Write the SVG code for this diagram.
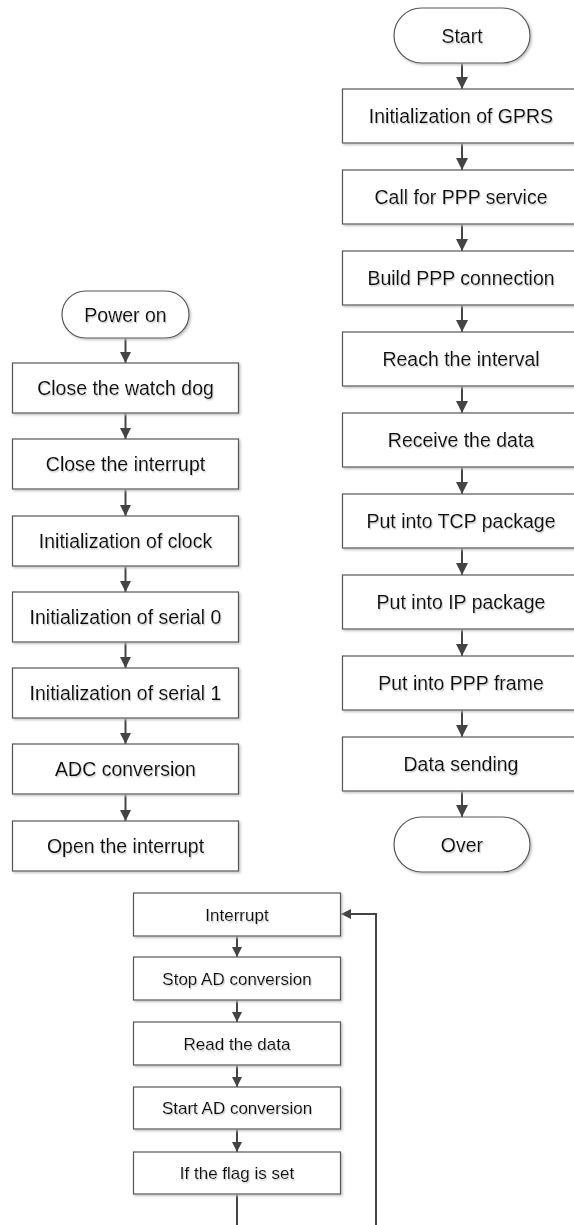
<svg xmlns="http://www.w3.org/2000/svg" width="574" height="1225" viewBox="0 0 574 1225">
<style>
.box{fill:#fff;stroke:#555;stroke-width:1.2;filter:url(#sh)}
.t{font-family:"Liberation Sans",Arial,sans-serif;font-size:19.5px;fill:#111;text-anchor:middle;filter:url(#tsh)}
.s{font-family:"Liberation Sans",Arial,sans-serif;font-size:17px;fill:#111;text-anchor:middle;filter:url(#tsh)}
.c{fill:none;stroke:#444;stroke-width:2}
</style>
<defs>
<filter id="sh" x="-5%" y="-5%" width="115%" height="130%"><feDropShadow dx="1.5" dy="1.5" stdDeviation="0.8" flood-color="#bbb" flood-opacity="0.9"/></filter>
<filter id="tsh" x="-5%" y="-20%" width="115%" height="150%"><feDropShadow dx="1" dy="1.5" stdDeviation="0.6" flood-color="#ccc" flood-opacity="0.9"/></filter>
<marker id="a12" markerUnits="userSpaceOnUse" markerWidth="12" markerHeight="12" refX="12" refY="6" orient="auto"><path d="M0,0 L12,6 L0,12 z" fill="#444"/></marker>
<marker id="a11" markerUnits="userSpaceOnUse" markerWidth="11" markerHeight="11" refX="11" refY="5.5" orient="auto"><path d="M0,0 L11,5.5 L0,11 z" fill="#444"/></marker>
<marker id="a10" markerUnits="userSpaceOnUse" markerWidth="10" markerHeight="10" refX="10" refY="5" orient="auto"><path d="M0,0 L10,5 L0,10 z" fill="#444"/></marker>
</defs>

<g id="connectors">
<line class="c" x1="462" y1="63" x2="462" y2="89" marker-end="url(#a12)"/>
<line class="c" x1="462" y1="143" x2="462" y2="170" marker-end="url(#a12)"/>
<line class="c" x1="462" y1="224" x2="462" y2="251" marker-end="url(#a12)"/>
<line class="c" x1="462" y1="305" x2="462" y2="332" marker-end="url(#a12)"/>
<line class="c" x1="462" y1="386" x2="462" y2="413" marker-end="url(#a12)"/>
<line class="c" x1="462" y1="467" x2="462" y2="494" marker-end="url(#a12)"/>
<line class="c" x1="462" y1="548" x2="462" y2="575" marker-end="url(#a12)"/>
<line class="c" x1="462" y1="629" x2="462" y2="656" marker-end="url(#a12)"/>
<line class="c" x1="462" y1="710" x2="462" y2="737" marker-end="url(#a12)"/>
<line class="c" x1="462" y1="791" x2="462" y2="817" marker-end="url(#a12)"/>

<line class="c" x1="125.5" y1="338" x2="125.5" y2="363" marker-end="url(#a11)"/>
<line class="c" x1="125.5" y1="413" x2="125.5" y2="439" marker-end="url(#a11)"/>
<line class="c" x1="125.5" y1="489" x2="125.5" y2="516" marker-end="url(#a11)"/>
<line class="c" x1="125.5" y1="566" x2="125.5" y2="592" marker-end="url(#a11)"/>
<line class="c" x1="125.5" y1="642" x2="125.5" y2="668" marker-end="url(#a11)"/>
<line class="c" x1="125.5" y1="718" x2="125.5" y2="744" marker-end="url(#a11)"/>
<line class="c" x1="125.5" y1="794" x2="125.5" y2="821" marker-end="url(#a11)"/>

<line class="c" x1="237" y1="936" x2="237" y2="957" marker-end="url(#a10)"/>
<line class="c" x1="237" y1="1000" x2="237" y2="1022" marker-end="url(#a10)"/>
<line class="c" x1="237" y1="1065" x2="237" y2="1087" marker-end="url(#a10)"/>
<line class="c" x1="237" y1="1129" x2="237" y2="1152" marker-end="url(#a10)"/>
<line class="c" x1="237" y1="1194" x2="237" y2="1226"/>
<polyline class="c" points="376,1226 376,914 341,914" marker-end="url(#a10)"/>
</g>

<g id="start"><rect class="box" x="394" y="8" width="136" height="55" rx="27.5"/><text class="t" x="462" y="42.5">Start</text></g>
<g id="gprs"><rect class="box" x="342.5" y="89" width="238" height="54"/><text class="t" x="461" y="123">Initialization of GPRS</text></g>
<g id="ppp-service"><rect class="box" x="342.5" y="170" width="238" height="54"/><text class="t" x="461" y="204">Call for PPP service</text></g>
<g id="ppp-conn"><rect class="box" x="342.5" y="251" width="238" height="54"/><text class="t" x="461" y="285">Build PPP connection</text></g>
<g id="interval"><rect class="box" x="342.5" y="332" width="238" height="54"/><text class="t" x="461" y="366">Reach the interval</text></g>
<g id="receive"><rect class="box" x="342.5" y="413" width="238" height="54"/><text class="t" x="461" y="447">Receive the data</text></g>
<g id="tcp"><rect class="box" x="342.5" y="494" width="238" height="54"/><text class="t" x="461" y="528">Put into TCP package</text></g>
<g id="ip"><rect class="box" x="342.5" y="575" width="238" height="54"/><text class="t" x="461" y="609">Put into IP package</text></g>
<g id="frame"><rect class="box" x="342.5" y="656" width="238" height="54"/><text class="t" x="461" y="690">Put into PPP frame</text></g>
<g id="sending"><rect class="box" x="342.5" y="737" width="238" height="54"/><text class="t" x="461" y="771">Data sending</text></g>
<g id="over"><rect class="box" x="394" y="817" width="136" height="55" rx="27.5"/><text class="t" x="462" y="851.5">Over</text></g>

<g id="power-on"><rect class="box" x="62" y="291" width="127" height="47" rx="23.5"/><text class="t" x="125.5" y="321.5">Power on</text></g>
<g id="watchdog"><rect class="box" x="12.5" y="363" width="226" height="50"/><text class="t" x="125.5" y="395">Close the watch dog</text></g>
<g id="close-int"><rect class="box" x="12.5" y="439" width="226" height="50"/><text class="t" x="125.5" y="471">Close the interrupt</text></g>
<g id="clock"><rect class="box" x="12.5" y="516" width="226" height="50"/><text class="t" x="125.5" y="548">Initialization of clock</text></g>
<g id="serial0"><rect class="box" x="12.5" y="592" width="226" height="50"/><text class="t" x="125.5" y="624">Initialization of serial 0</text></g>
<g id="serial1"><rect class="box" x="12.5" y="668" width="226" height="50"/><text class="t" x="125.5" y="700">Initialization of serial 1</text></g>
<g id="adc"><rect class="box" x="12.5" y="744" width="226" height="50"/><text class="t" x="125.5" y="776">ADC conversion</text></g>
<g id="open-int"><rect class="box" x="12.5" y="821" width="226" height="50"/><text class="t" x="125.5" y="853">Open the interrupt</text></g>

<g id="interrupt"><rect class="box" x="133.5" y="893" width="207" height="43"/><text class="s" x="237" y="920.5">Interrupt</text></g>
<g id="stop-ad"><rect class="box" x="133.5" y="957" width="207" height="43"/><text class="s" x="237" y="984.5">Stop AD conversion</text></g>
<g id="read"><rect class="box" x="133.5" y="1022" width="207" height="43"/><text class="s" x="237" y="1049.5">Read the data</text></g>
<g id="start-ad"><rect class="box" x="133.5" y="1087" width="207" height="42"/><text class="s" x="237" y="1114">Start AD conversion</text></g>
<g id="flag"><rect class="box" x="133.5" y="1152" width="207" height="42"/><text class="s" x="237" y="1179">If the flag is set</text></g>
</svg>
